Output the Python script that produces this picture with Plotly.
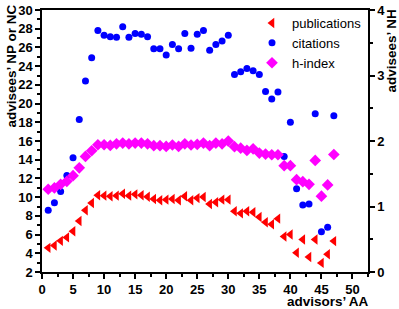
import plotly.graph_objects as go

aa = list(range(1, 48))

publications = [4.58, 4.83, 5.33, 5.7, 6.35, 7.45, 8.6, 9.38, 10.2, 10.16,
                10.1, 10.16, 10.37, 10.16, 10.3, 10.2, 10.05, 9.8, 9.66, 9.73,
                9.8, 9.66, 10.1, 9.66, 9.9, 10.02, 9.27, 9.45, 9.73, 9.73,
                8.5, 8.27, 8.5, 8.38, 7.88, 7.32, 7.1, 7.7, 5.8, 6.0,
                4.05, 5.47, 3.6, 5.47, 2.97, 3.9, 5.3]

citations = [8.6, 9.4, 10.6, 12.3, 14.2, 18.3, 22.4, 24.9, 27.8, 27.3,
             27.15, 27.1, 28.2, 27.1, 27.5, 27.4, 27.15, 25.85, 25.85, 25.2,
             26.3, 25.85, 27.5, 25.9, 27.4, 27.8, 25.7, 26.3, 26.7, 27.3,
             23.1, 23.4, 23.75, 23.5, 23.1, 21.3, 20.5, 21.25, 14.35, 18.0,
             10.9, 9.17, 9.27, 18.9, 6.3, 6.78, 18.7]

# h-index values on the right (NH) axis
hindex = [1.263, 1.283, 1.339, 1.384, 1.47, 1.591, 1.764, 1.851, 1.943, 1.943,
          1.933, 1.957, 1.969, 1.957, 1.969, 1.969, 1.957, 1.929, 1.929, 1.917,
          1.939, 1.917, 1.957, 1.939, 1.947, 1.969, 1.929, 1.969, 1.957, 1.999,
          1.913, 1.891, 1.856, 1.881, 1.816, 1.8, 1.79, 1.79, 1.623, 1.623,
          1.41, 1.379, 1.339, 1.704, 1.157, 1.329, 1.794]

font = "Liberation Sans, Arial, sans-serif"

W, H = 399, 309
ML, MR, MT, MB = 42, 31, 10, 37

fig = go.Figure()
fig.add_trace(go.Scatter(x=aa, y=publications, mode="markers", name="publications",
                         marker=dict(symbol="triangle-left", size=9, color="#ff0000")))
fig.add_trace(go.Scatter(x=aa, y=citations, mode="markers", name="citations",
                         marker=dict(symbol="circle", size=7, color="#0000ff")))
fig.add_trace(go.Scatter(x=aa, y=hindex, mode="markers", name="h-index", yaxis="y2",
                         marker=dict(symbol="diamond", size=9, color="#ff00ff")))

axis_common = dict(showgrid=False, zeroline=False, showline=True, linecolor="black",
                   linewidth=1.5, ticks="outside", ticklen=5, tickwidth=1.5,
                   tickcolor="black", automargin=False,
                   tickfont=dict(family=font, size=13, color="black", weight="bold"))


def px(x, y):
    return (x - ML) / (W - ML - MR), 1 - (y - MT) / (H - MT - MB)


ann = []
for text, (x, y), xa, ang in [("advisors’ AA", (371, 301.5), "right", 0),
                              ("advisees’ NP or NC", (11, 66.5), "center", -90),
                              ("advisees’ NH", (391, 51.5), "center", -90)]:
    ax, ay = px(x, y)
    ann.append(dict(text=text, x=ax, y=ay, xref="paper", yref="paper",
                    showarrow=False, textangle=ang,
                    font=dict(family=font, size=13.5, color="black", weight="bold"),
                    xanchor=xa, yanchor="middle"))

lx, ly = px(252, 8)

fig.update_layout(
    width=W, height=H,
    margin=dict(l=ML, r=MR, t=MT, b=MB, autoexpand=False),
    paper_bgcolor="white", plot_bgcolor="white",
    showlegend=True,
    legend=dict(x=lx, y=ly, xanchor="left", yanchor="top",
                bgcolor="rgba(0,0,0,0)", font=dict(family=font, size=13, color="black"),
                itemwidth=30, tracegroupgap=0),
    xaxis=dict(range=[0, 52.5], dtick=5, tick0=0, mirror=True,
               minor=dict(dtick=2.5, ticklen=3, tickwidth=1.5, tickcolor="black", ticks="outside"),
               **axis_common),
    yaxis=dict(range=[2, 30], dtick=2, tick0=2, mirror=True,
               minor=dict(dtick=1, ticklen=3, tickwidth=1.5, tickcolor="black", ticks="outside"),
               **axis_common),
    yaxis2=dict(range=[0, 4], dtick=1, tick0=0, overlaying="y", side="right",
                minor=dict(dtick=0.5, ticklen=3, tickwidth=1.5, tickcolor="black", ticks="outside"),
                **axis_common),
    annotations=ann,
)

fig.write_html("out.html", config={"displayModeBar": False},
               post_script="document.body.style.margin='0';document.body.style.overflow='hidden';")
